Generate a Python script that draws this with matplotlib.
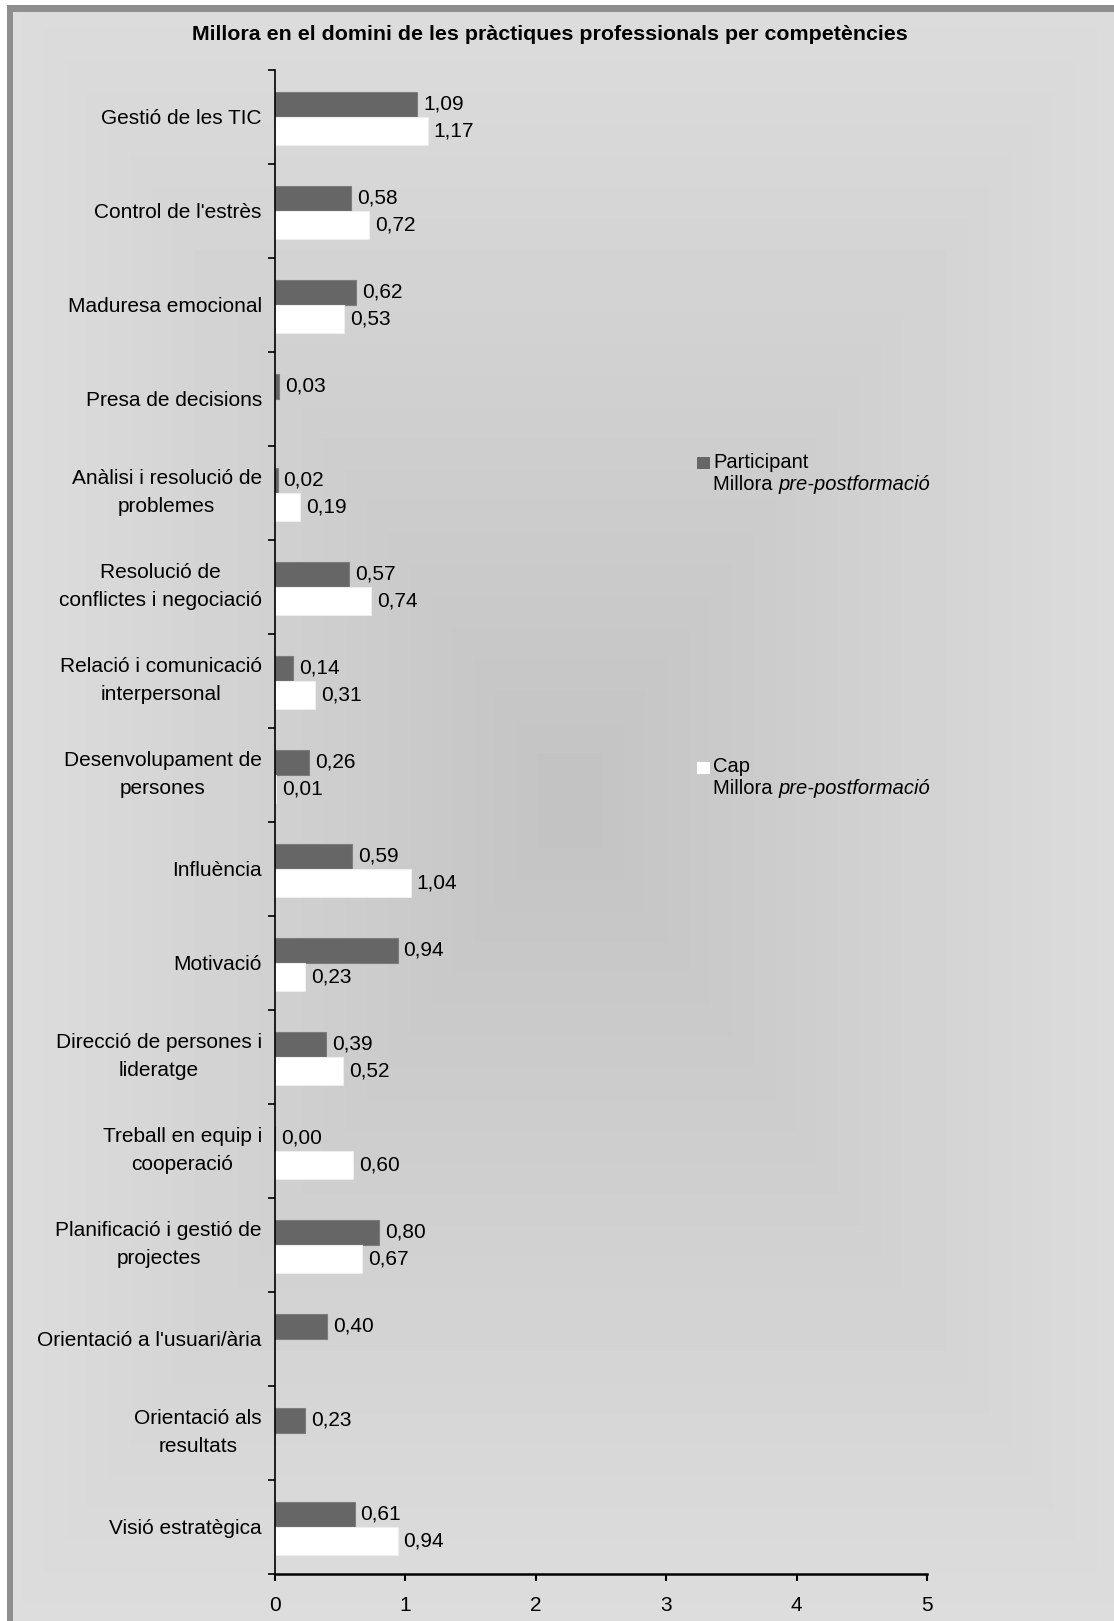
import numpy as np
import matplotlib
matplotlib.use("Agg")
import matplotlib.pyplot as plt
from matplotlib.patches import Rectangle

plt.rcParams["font.family"] = ["Liberation Sans", "DejaVu Sans"]

# Competències, de dalt a baix
competencies = [
    "Gestió de les TIC",
    "Control de l'estrès",
    "Maduresa emocional",
    "Presa de decisions",
    "Anàlisi i resolució de\nproblemes",
    "Resolució de\nconflictes i negociació",
    "Relació i comunicació\ninterpersonal",
    "Desenvolupament de\npersones",
    "Influència",
    "Motivació",
    "Direcció de persones i\nlideratge",
    "Treball en equip i\ncooperació",
    "Planificació i gestió de\nprojectes",
    "Orientació a l'usuari/ària",
    "Orientació als\nresultats",
    "Visió estratègica",
]
participant = [1.09, 0.58, 0.62, 0.03, 0.02, 0.57, 0.14, 0.26,
               0.59, 0.94, 0.39, 0.00, 0.80, 0.40, 0.23, 0.61]
cap = [1.17, 0.72, 0.53, None, 0.19, 0.74, 0.31, 0.01,
       1.04, 0.23, 0.52, 0.60, 0.67, None, None, 0.94]
xticks = [0, 1, 2, 3, 4, 5]

W, H = 1114, 1621
fig = plt.figure(figsize=(W / 100, H / 100), dpi=100)

# fons amb degradat rectangular des del centre
bg = fig.add_axes([0, 0, 1, 1], zorder=-10)
xx, yy = np.meshgrid(np.arange(W), np.arange(H))
d = np.maximum(np.abs(xx - 570) / 580, np.abs(yy - 800) / 850)
d = np.clip(d, 0, 1)
g = np.round(195 + 27 * d) / 255
bg.imshow(g, cmap="gray", vmin=0, vmax=1, extent=(0, W, H, 0), aspect="auto",
          interpolation="nearest")
bg.set_xlim(0, W)
bg.set_ylim(H, 0)
bg.axis("off")
# marc gris a dalt i a l'esquerra
bg.add_patch(Rectangle((0, 0), W, 5, color="white", lw=0))
bg.add_patch(Rectangle((0, 0), 7, H, color="white", lw=0))
bg.add_patch(Rectangle((7, 5), W, 7, color="#8e8e8e", lw=0))
bg.add_patch(Rectangle((7, 5), 6, H, color="#8e8e8e", lw=0))

ax = fig.add_axes([275 / W, 1 - 1574 / H, 652 / W, 1504 / H], facecolor="none")

n = len(competencies)
pos = np.arange(n)
h_part, h_cap = 0.27, 0.30
off = 6 * 5 / 652  # separació de les etiquetes en unitats de dades

for i, v in enumerate(participant):
    ax.barh(i - h_part / 2, v, height=h_part, color="#666666",
            edgecolor="#7c7c7c", lw=0.8)
    ax.text(v + off, i - h_part / 2, f"{v:.2f}".replace(".", ","),
            va="center", ha="left", fontsize=15)
for i, v in enumerate(cap):
    if v is None:
        continue
    ax.barh(i + h_cap / 2, v, height=h_cap, color="white",
            edgecolor="#eeeeee", lw=0.8)
    ax.text(v + off, i + h_cap / 2, f"{v:.2f}".replace(".", ","),
            va="center", ha="left", fontsize=15)

ax.set_xlim(0, 5)
ax.set_ylim(n - 0.5, -0.5)
ax.set_xticks(xticks)
ax.set_xticklabels([str(t) for t in xticks], fontsize=15)
ax.set_yticks(np.arange(n + 1) - 0.5)
ax.set_yticklabels([])
ax.set_yticks(pos, minor=True)
ax.set_yticklabels(competencies, minor=True, fontsize=15)
for lab in ax.get_yticklabels(minor=True):
    lab.set_multialignment("center")
    lab.set_linespacing(1.6)
    if "\n" in lab.get_text():
        lab.set_verticalalignment("center")
ax.tick_params(axis="y", which="major", length=5, width=1.2, direction="out")
ax.tick_params(axis="y", which="minor", length=0, pad=9.5)
ax.tick_params(axis="x", length=5, width=1.5, pad=11)
ax.spines[["top", "right"]].set_visible(False)
ax.spines["left"].set_linewidth(1.2)
ax.spines["bottom"].set_linewidth(1.8)

fig.text(550 / W, 1 - 34 / H, "Millora en el domini de les pràctiques professionals per competències",
         ha="center", va="center", fontsize=15.4, fontweight="bold")

# llegenda feta a mà
for yc, color, nom in [(463, "#666666", "Participant"), (768, "white", "Cap")]:
    fig.patches.append(Rectangle((697 / W, 1 - (yc + 6) / H), 13 / W, 12 / H,
                                 transform=fig.transFigure, facecolor=color,
                                 edgecolor="none"))
    fig.text(713 / W, 1 - (yc - 1) / H, nom, ha="left", va="center", fontsize=14.5)
    t = fig.text(713 / W, 1 - (yc + 21) / H, "Millora ", ha="left", va="center",
                 fontsize=14.5)
    fig.canvas.draw()
    plt.annotate("pre-postformació", xy=(1, 0.5), xycoords=t,
                 ha="left", va="center", fontsize=14.5, style="italic",
                 annotation_clip=False)

fig.savefig("out.png", dpi=100)
